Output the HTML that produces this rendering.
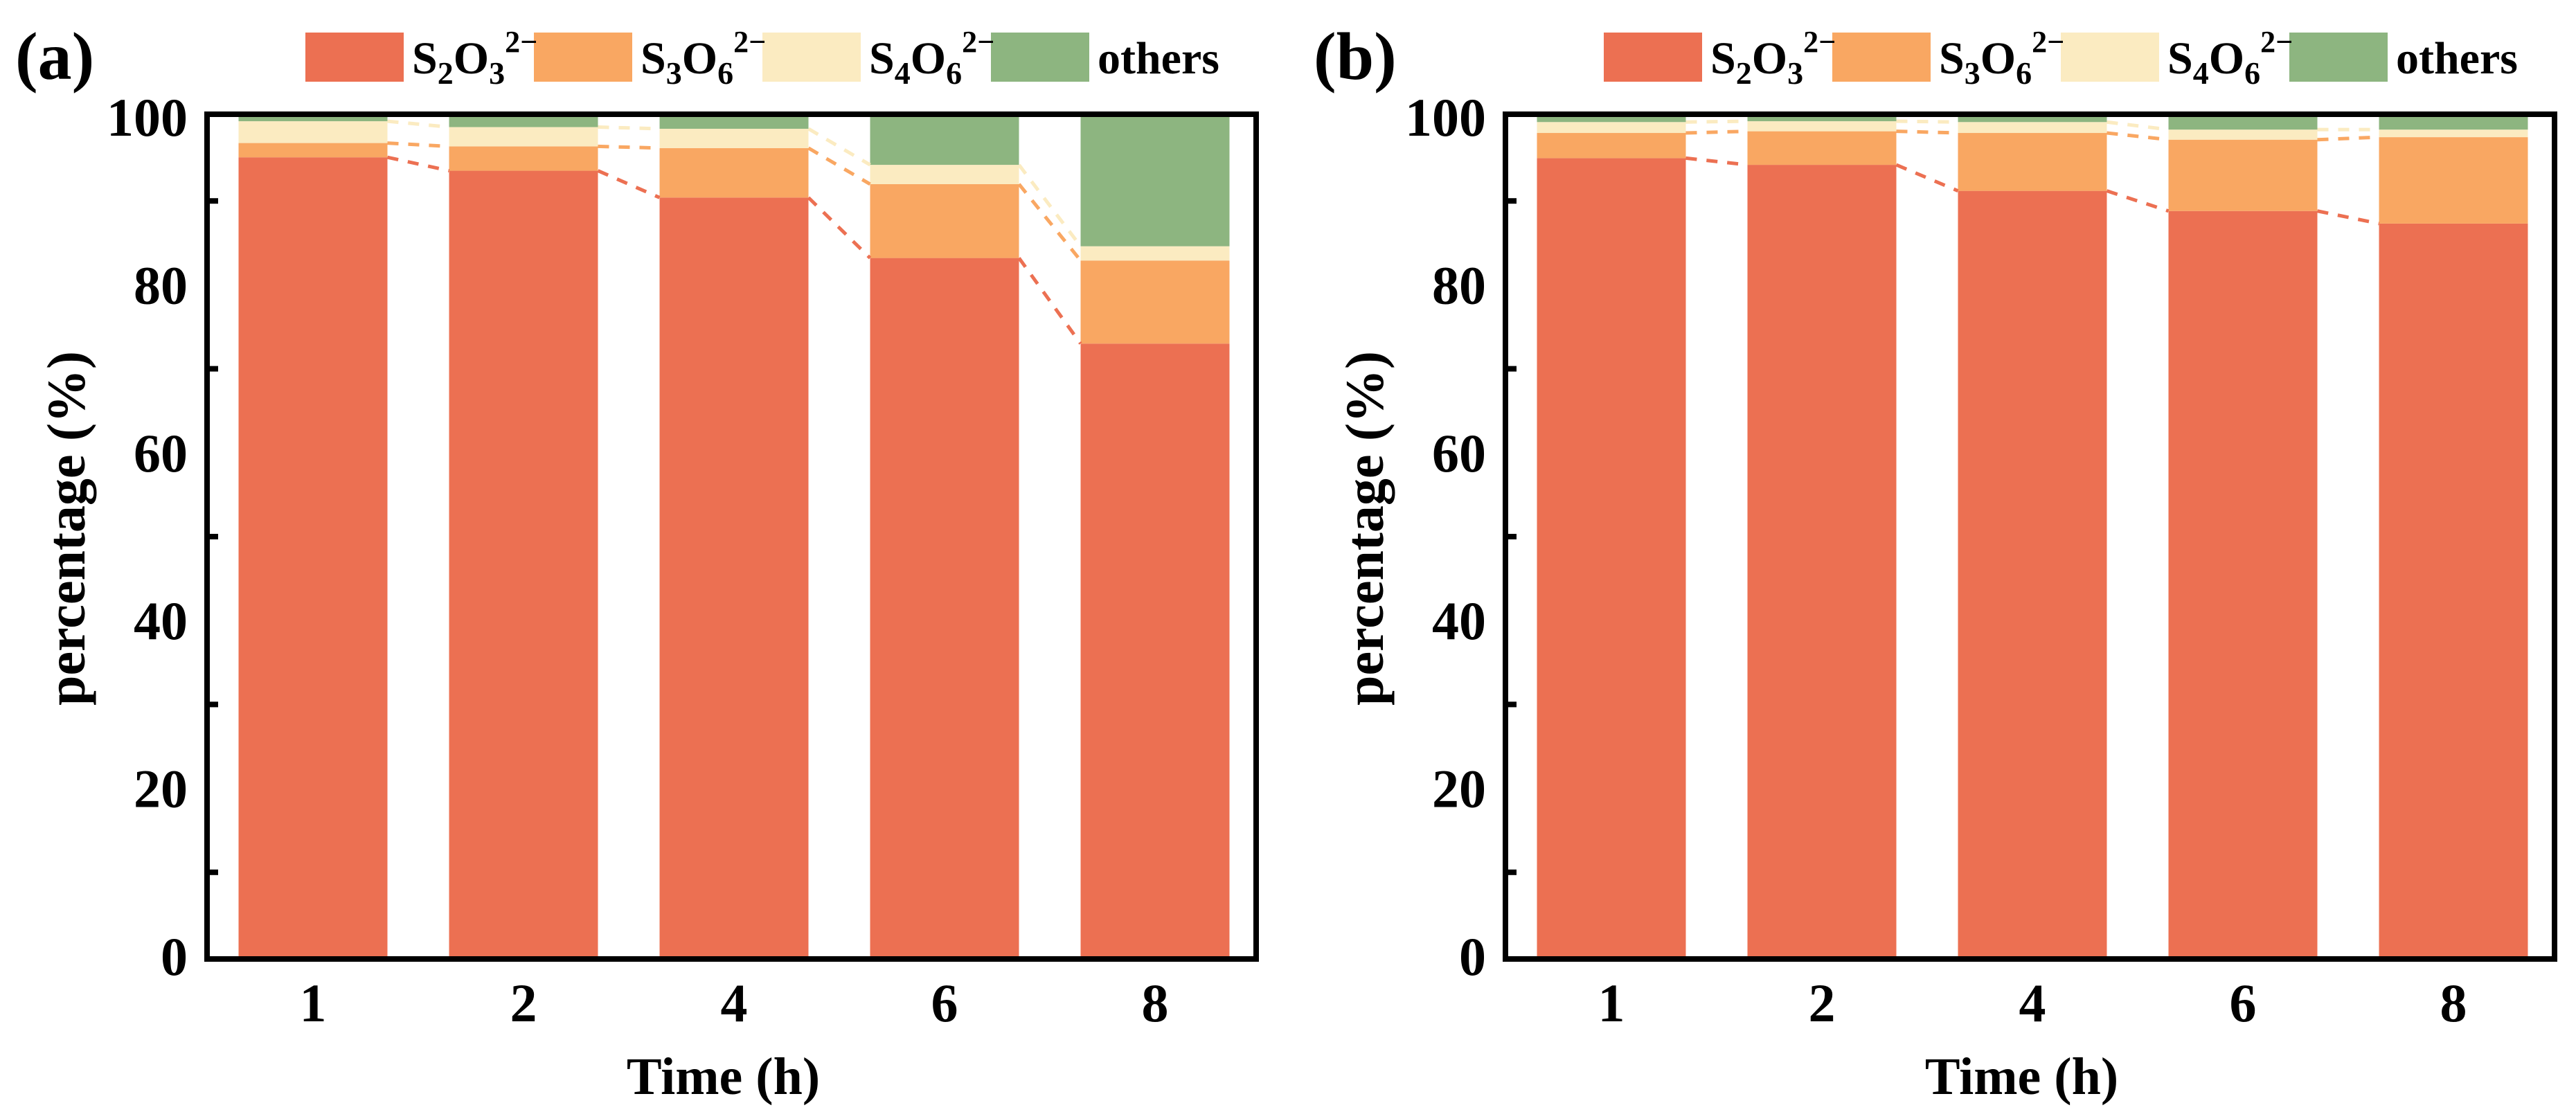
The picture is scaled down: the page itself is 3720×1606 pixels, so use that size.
<!DOCTYPE html>
<html><head><meta charset="utf-8"><style>
html,body{margin:0;padding:0;background:#fff;}
svg{display:block;}
text{font-family:"Liberation Serif",serif;font-weight:bold;fill:#000;}
</style></head><body>
<svg id="chart" width="3720" height="1606" viewBox="0 0 3720 1606" xmlns="http://www.w3.org/2000/svg"></svg>
<script>
const categories = ["1","2","4","6","8"];
const yTicks = [0,20,40,60,80,100];
const seriesNames = ["S2O3","S3O6","S4O6","others"];
const colors = ["#EC7052","#F9A762","#FBEBC1","#8DB580"];
const aS2 = [95.2,93.6,90.4,83.2,73.0];
const aS3 = [1.7,2.9,5.9,8.8,9.9];
const aS4 = [2.6,2.3,2.3,2.3,1.7];
const bS2 = [95.1,94.3,91.2,88.8,87.3];
const bS3 = [3.0,4.0,6.9,8.5,10.3];
const bS4 = [1.3,1.2,1.3,1.2,0.9];

const NS="http://www.w3.org/2000/svg";
const svg=document.getElementById('chart');
function mk(tag,attrs,parent){const e=document.createElementNS(NS,tag);for(const k in attrs)e.setAttribute(k,attrs[k]);(parent||svg).appendChild(e);return e;}

function panel(ox,label,s2,s3,s4,pname){
  const g=mk('g',{});
  
  
  const X0=303+ox,X1=1810+ox,YT=169,YB=1381;
  const y=v=>YB-(v/100)*(YB-YT);
  const pitch=304,bw=215,c0=452+ox;
  const xc=i=>c0+i*pitch;
  const others=s2.map((v,i)=>Math.max(0,100-v-s3[i]-s4[i]));
  const stacks=[s2,s3,s4,others];
  for(let i=0;i<categories.length;i++){
    let base=0;
    for(let s=0;s<4;s++){
      const v=stacks[s][i];
      const r=mk('rect',{x:xc(i)-bw/2,y:y(base+v),width:bw,height:y(base)-y(base+v),fill:colors[s]},g);
      
      
      base+=v;
    }
  }
  for(let s=0;s<3;s++){
    for(let i=0;i<categories.length-1;i++){
      let c1=0,c2=0;for(let k=0;k<=s;k++){c1+=stacks[k][i];c2+=stacks[k][i+1];}
      const l=mk('line',{x1:xc(i)+bw/2,y1:y(c1),x2:xc(i+1)-bw/2,y2:y(c2),stroke:colors[s],'stroke-width':5,'stroke-dasharray':'16 14'},g);
      
      
    }
  }
  const f=mk('rect',{x:X0-4,y:YT-4,width:X1-X0+8,height:YB-YT+8,fill:'none',stroke:'#000','stroke-width':8},g);
  
  
  for(let v=10;v<100;v+=20){
    const t=mk('line',{x1:X0,x2:X0+12,y1:y(v),y2:y(v),stroke:'#000','stroke-width':8},g);
    
    
  }
  yTicks.forEach(v=>{
    const t=mk('text',{x:X0-32,y:y(v)+27,'font-size':78,'text-anchor':'end'},g);
    t.textContent=v;
    
    
  });
  categories.forEach((c,i)=>{
    const t=mk('text',{x:xc(i),y:1475,'font-size':78,'text-anchor':'middle'},g);
    t.textContent=c;
    
    
  });
  const xt=mk('text',{x:(X0+X1)/2-12,y:1580,'font-size':76,'text-anchor':'middle'},g);
  xt.textContent='Time (h)';
  
  
  const yt=mk('text',{x:0,y:0,'font-size':78,'text-anchor':'middle',transform:`translate(${122+ox},${(YT+YB)/2-12}) rotate(-90)`},g);
  yt.textContent='percentage (%)';
  
  
  const pl=mk('text',{x:22+ox,y:114,'font-size':98},g);
  pl.textContent=label;
  
  
  const legs=[["S","2","O","3"],["S","3","O","6"],["S","4","O","6"],null];
  for(let s=0;s<4;s++){
    const lx=441+ox+s*330;
    const lg=mk('g',{},g);
    
    
    mk('rect',{x:lx,y:47,width:142,height:71,fill:colors[s]},lg);
  }
  for(let s=0;s<4;s++){
    const lx=441+ox+s*330;
    const t=mk('text',{x:lx+154,y:106,'font-size':66},g);
    
    
    if(legs[s]){
      const p=legs[s];
      const a=mk('tspan',{},t);a.textContent=p[0];
      const b=mk('tspan',{dy:15,'font-size':46},t);b.textContent=p[1];
      const c=mk('tspan',{dy:-15},t);c.textContent=p[2];
      const d=mk('tspan',{dy:15,'font-size':46},t);d.textContent=p[3];
      const e=mk('tspan',{dy:-46,'font-size':44},t);e.textContent='2−';
    } else {
      t.textContent='others';
    }
  }
}
panel(0,'(a)',aS2,aS3,aS4,'panel-a');
panel(1875,'(b)',bS2,bS3,bS4,'panel-b');
</script>
</body></html>
